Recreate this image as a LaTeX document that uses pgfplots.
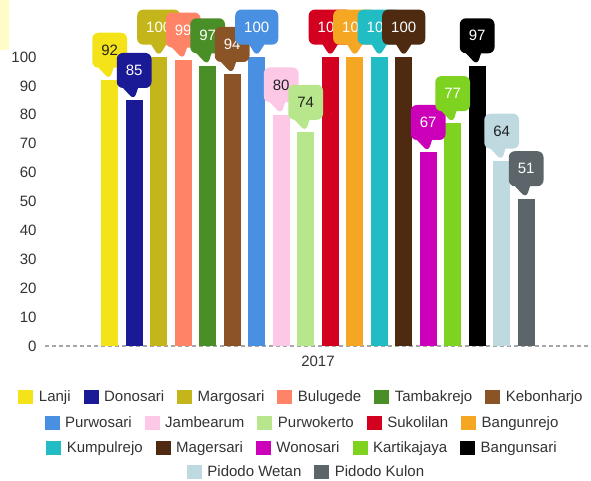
\documentclass[border=0pt]{standalone}
\usepackage{fontspec}
\setmainfont{Liberation Sans}
\usepackage{pgfplots}
\pgfplotsset{compat=1.18}
\usetikzlibrary{shapes.callouts}

\definecolor{cLanji}{HTML}{F5E31A}
\definecolor{cDonosari}{HTML}{1A1A96}
\definecolor{cMargosari}{HTML}{C4B51A}
\definecolor{cBulugede}{HTML}{FF8366}
\definecolor{cTambakrejo}{HTML}{4A8E27}
\definecolor{cKebonharjo}{HTML}{8B5427}
\definecolor{cPurwosari}{HTML}{4A90E2}
\definecolor{cJambearum}{HTML}{FDC8E6}
\definecolor{cPurwokerto}{HTML}{B8E68C}
\definecolor{cSukolilan}{HTML}{D40020}
\definecolor{cBangunrejo}{HTML}{F5A623}
\definecolor{cKumpulrejo}{HTML}{22BCC4}
\definecolor{cMagersari}{HTML}{4E2A10}
\definecolor{cWonosari}{HTML}{CC00B8}
\definecolor{cKartikajaya}{HTML}{7ED321}
\definecolor{cBangunsari}{HTML}{000000}
\definecolor{cPidodoWetan}{HTML}{BFD9E0}
\definecolor{cPidodoKulon}{HTML}{5C666A}
\definecolor{txtdark}{HTML}{222222}
\definecolor{tickgray}{HTML}{333333}

\pgfplotsset{
  co/.style n args={2}{fill=#1, draw=none,
    every node near coord/.append style={fill=#1, text=#2}},
  legrow/.style={at={(0pt,0pt)}, anchor=south west, scale only axis,
    width=546pt, height=346.8pt, hide axis, xmin=0, xmax=1, ymin=0, ymax=1,
    legend columns=-1,
    legend style={at={(#1)}, anchor=center, draw=none, fill=none,
      font=\fontsize{15}{18}\selectfont, text=tickgray,
      /tikz/every odd column/.append style={column sep=2.5pt},
      /tikz/every even column/.append style={column sep=10pt},
      nodes={inner sep=3pt}},
    legend image code/.code={\fill[##1, draw=none] (0pt,-7pt) rectangle (15pt,7pt);}},
}

\begin{document}
\begin{tikzpicture}
\path[use as bounding box] (-45pt,-134pt) rectangle (546pt,346pt);
\fill[yellow!22] (-45pt,296pt) rectangle (-36pt,346pt);
\begin{axis}[
  at={(0pt,0pt)}, anchor=south west,
  scale only axis, width=546pt, height=346.8pt,
  ybar=7.5pt, bar width=17pt,
  xmin=-1, xmax=1, ymin=0, ymax=120,
  xtick={0}, xticklabels={2017},
  ytick={0,10,...,100},
  major tick length=0pt,
  axis line style={draw=none},
  clip=false,
  /pgf/number format/assume math mode=true,
  tick label style={font=\fontsize{15}{18}\selectfont, text=tickgray},
  yticklabel style={xshift=-5pt},
  xticklabel style={yshift=-6pt},
  nodes near coords,
  every node near coord/.append style={rectangle callout, anchor=pointer,
    callout relative pointer={(0pt,-12pt)}, callout pointer width=15pt,
    rounded corners=6pt, inner xsep=9pt, minimum height=35pt,
    font=\fontsize{15}{18}\selectfont},
]
\draw[gray!70, line width=1.2pt, dash pattern=on 4pt off 3pt] (rel axis cs:0,0) -- (rel axis cs:1,0);
\addplot[co={cLanji}{txtdark}] coordinates {(0,92)};
\addplot[co={cDonosari}{white}] coordinates {(0,85)};
\addplot[co={cMargosari}{white}] coordinates {(0,100)};
\addplot[co={cBulugede}{white}] coordinates {(0,99)};
\addplot[co={cTambakrejo}{white}] coordinates {(0,97)};
\addplot[co={cKebonharjo}{white}] coordinates {(0,94)};
\addplot[co={cPurwosari}{white}] coordinates {(0,100)};
\addplot[co={cJambearum}{txtdark}] coordinates {(0,80)};
\addplot[co={cPurwokerto}{txtdark}] coordinates {(0,74)};
\addplot[co={cSukolilan}{white}] coordinates {(0,100)};
\addplot[co={cBangunrejo}{white}] coordinates {(0,100)};
\addplot[co={cKumpulrejo}{white}] coordinates {(0,100)};
\addplot[co={cMagersari}{white}] coordinates {(0,100)};
\addplot[co={cWonosari}{white}] coordinates {(0,67)};
\addplot[co={cKartikajaya}{white}] coordinates {(0,77)};
\addplot[co={cBangunsari}{white}] coordinates {(0,97)};
\addplot[co={cPidodoWetan}{txtdark}] coordinates {(0,64)};
\addplot[co={cPidodoKulon}{white}] coordinates {(0,51)};
\end{axis}

\begin{axis}[legrow={0.4707,-0.147}]
\addlegendimage{fill=cLanji}\addlegendentry{Lanji}
\addlegendimage{fill=cDonosari}\addlegendentry{Donosari}
\addlegendimage{fill=cMargosari}\addlegendentry{Margosari}
\addlegendimage{fill=cBulugede}\addlegendentry{Bulugede}
\addlegendimage{fill=cTambakrejo}\addlegendentry{Tambakrejo}
\addlegendimage{fill=cKebonharjo}\addlegendentry{Kebonharjo}
\end{axis}
\begin{axis}[legrow={0.4725,-0.222}]
\addlegendimage{fill=cPurwosari}\addlegendentry{Purwosari}
\addlegendimage{fill=cJambearum}\addlegendentry{Jambearum}
\addlegendimage{fill=cPurwokerto}\addlegendentry{Purwokerto}
\addlegendimage{fill=cSukolilan}\addlegendentry{Sukolilan}
\addlegendimage{fill=cBangunrejo}\addlegendentry{Bangunrejo}
\end{axis}
\begin{axis}[legrow={0.4725,-0.294}]
\addlegendimage{fill=cKumpulrejo}\addlegendentry{Kumpulrejo}
\addlegendimage{fill=cMagersari}\addlegendentry{Magersari}
\addlegendimage{fill=cWonosari}\addlegendentry{Wonosari}
\addlegendimage{fill=cKartikajaya}\addlegendentry{Kartikajaya}
\addlegendimage{fill=cBangunsari}\addlegendentry{Bangunsari}
\end{axis}
\begin{axis}[legrow={0.4799,-0.362}]
\addlegendimage{fill=cPidodoWetan}\addlegendentry{Pidodo Wetan}
\addlegendimage{fill=cPidodoKulon}\addlegendentry{Pidodo Kulon}
\end{axis}
\end{tikzpicture}
\end{document}
